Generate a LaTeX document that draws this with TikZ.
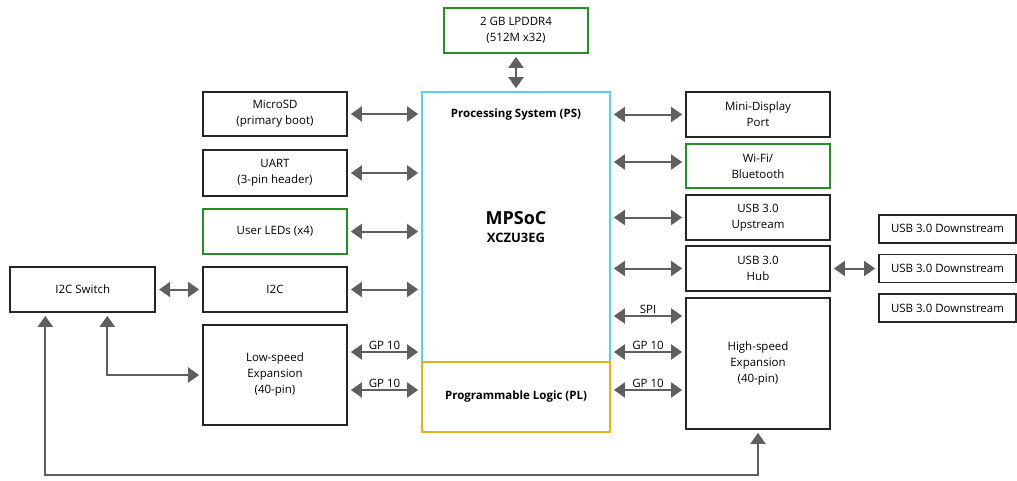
\documentclass[tikz,border=0pt]{standalone}
\usepackage{fontspec}
\setmainfont{Open Sans}
\usepackage{tikz}
\usetikzlibrary{arrows.meta,positioning}

\definecolor{boxgreen}{RGB}{40,140,40}
\definecolor{pscyan}{RGB}{90,205,240}
\definecolor{plgold}{RGB}{228,178,30}
\definecolor{linkgray}{RGB}{95,95,95}

\begin{document}
\begin{tikzpicture}[x=1pt,y=-1pt,>={Triangle[length=11pt,width=15pt]},semithick,
  every node/.style={font=\fontsize{11.5}{16}\selectfont,align=center}]
  \tikzstyle{block}=[draw=black!85,line width=1.7pt,minimum width=144pt,minimum height=45pt,inner sep=2pt]
  \tikzstyle{greenblock}=[block,draw=boxgreen]
  \tikzstyle{link}=[<->,draw=linkgray,line width=2pt,shorten >=3pt,shorten <=3pt]
  \useasboundingbox (0,0) rectangle (1017,480);

	% SoC in the middle
	\node[block, draw=pscyan, minimum width=188pt, minimum height=270pt] (ps) at (516,227) {{\fontsize{18}{22}\selectfont\bfseries MPSoC}\\[2pt]{\fontsize{13}{16}\selectfont\bfseries XCZU3EG}};
	\node[font=\fontsize{11.5}{14}\selectfont\bfseries] (ps_title) at (516,115) {Processing System (PS)};
	\node[block, draw=plgold, minimum width=188pt, minimum height=70pt, font=\fontsize{11.5}{14}\selectfont\bfseries] (pl) at (516,397) {Programmable Logic (PL)};
	\node[greenblock] (ddr) at (516,30.5) {2 GB LPDDR4\\(512M x32)};

	% left column
	\node[block, minimum height=44pt] (microsd) at (275,114) {MicroSD\\(primary boot)};
	\node[block, minimum height=46pt] (uart) at (275,173) {UART\\(3-pin header)};
	\node[greenblock] (leds) at (275,231.5) {User LEDs (x4)};
	\node[block] (i2c) at (275,289.5) {I2C};
	\node[block, minimum height=100pt] (lowspeed) at (275,375) {Low-speed\\Expansion\\(40-pin)};
	\node[block, minimum width=145pt, left=46pt of i2c] (i2cswitch) {I2C Switch};

	% right column
	\node[block] (mdp) at (758,114.5) {Mini-Display\\Port};
	\node[greenblock, minimum height=44pt] (wifi) at (758,166) {Wi-Fi/\\Bluetooth};
	\node[block] (usbup) at (758,217.5) {USB 3.0\\Upstream};
	\node[block] (hub) at (758,268.5) {USB 3.0\\Hub};
	\node[block, minimum height=131pt] (highspeed) at (758,363.5) {High-speed\\Expansion\\(40-pin)};

	% downstream ports
	\node[block, minimum width=137pt, minimum height=28pt] (ds_b) at (947.5,268.5) {USB 3.0 Downstream};
	\node[block, minimum width=137pt, minimum height=28pt, above=10pt of ds_b] (ds_a) {USB 3.0 Downstream};
	\node[block, minimum width=137pt, minimum height=28pt, below=10pt of ds_b] (ds_c) {USB 3.0 Downstream};

	\coordinate (wifi_in) at (0,162);
	\coordinate (spi) at (0,316);
	\coordinate (gp_a) at (0,352);
	\coordinate (gp_b) at (0,390);
	\coordinate (bus) at (0,475);

	\draw[link] (ddr) -- (ps);
	\draw[link] (microsd) -- (microsd -| ps.west);
	\draw[link] (uart) -- (uart -| ps.west);
	\draw[link] (leds) -- (leds -| ps.west);
	\draw[link] (i2c) -- (i2c -| ps.west);
	\draw[link] (i2cswitch) -- (i2c);
	\draw[link] (gp_a -| lowspeed.east) -- node[above=-2pt]{GP 10} (gp_a -| ps.west);
	\draw[link] (gp_b -| lowspeed.east) -- node[above=-2pt]{GP 10} (gp_b -| pl.west);

	\draw[link] (mdp -| ps.east) -- (mdp);
	\draw[link] (wifi_in -| ps.east) -- (wifi_in -| wifi.west);
	\draw[link] (usbup -| ps.east) -- (usbup);
	\draw[link] (hub -| ps.east) -- (hub);
	\draw[link] (spi -| ps.east) -- node[above=-2pt]{SPI} (spi -| highspeed.west);
	\draw[link] (gp_a -| ps.east) -- node[above=-2pt]{GP 10} (gp_a -| highspeed.west);
	\draw[link] (gp_b -| pl.east) -- node[above=-2pt]{GP 10} (gp_b -| highspeed.west);
	\draw[link] (hub) -- (ds_b);

	% I2C switch to both expansion headers
	\draw[link] ([xshift=-37.5pt]i2cswitch.south) |- (bus -| highspeed.south) -- (highspeed.south);
	\draw[link] ([xshift=24.5pt]i2cswitch.south) |- (lowspeed.west);
\end{tikzpicture}
\end{document}
